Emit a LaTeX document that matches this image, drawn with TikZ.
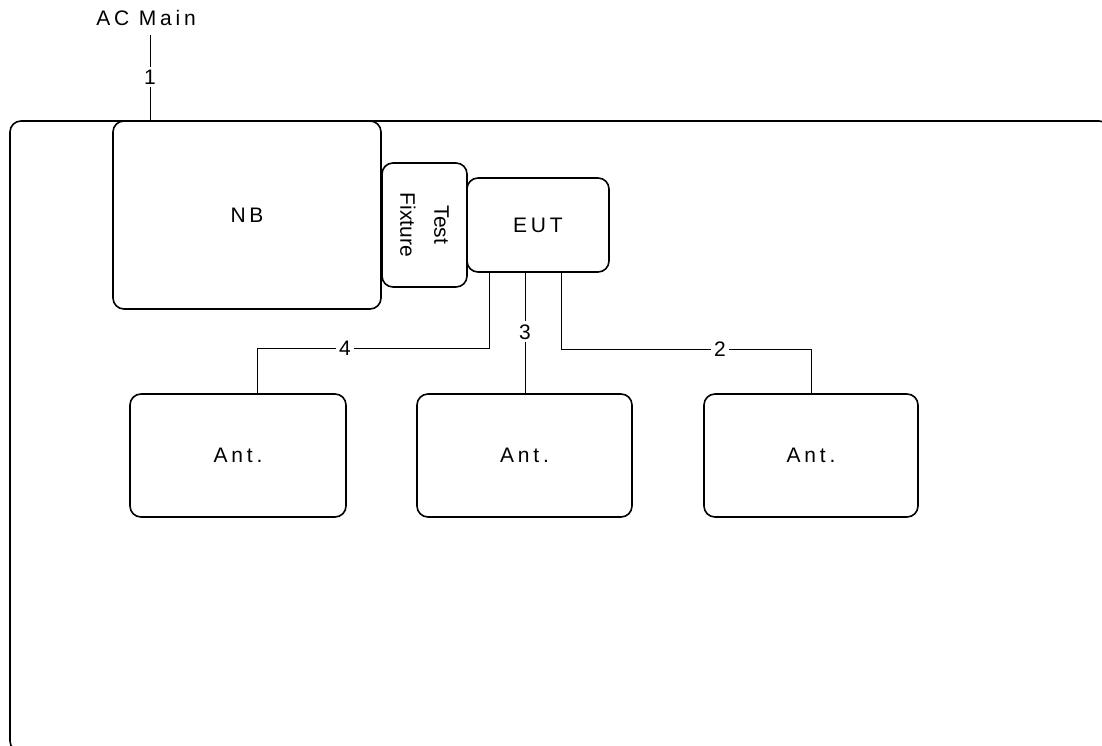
\documentclass[tikz,border=0pt]{standalone}
\usepackage{fontspec}
\setmainfont{Liberation Sans}
\newfontfamily\spaced[LetterSpace=18]{Liberation Sans}
\begin{document}
\begin{tikzpicture}[x=1pt,y=-1pt,
  box/.style={draw,line width=1.6pt,rounded corners=11pt,inner sep=0pt},
  wire/.style={draw,line width=0.8pt},
  lbl/.style={font=\fontsize{21}{24}\selectfont,inner sep=3pt,fill=white},
  txt/.style={font=\spaced\fontsize{21}{24}\selectfont}]
\useasboundingbox (0,0) rectangle (1102,745);
\clip (0,0) rectangle (1102,745);
\draw[line width=1.6pt,rounded corners=11pt] (10,121) rectangle (1110,752);
\node[box,minimum width=268pt,minimum height=188pt,txt] (nb) at (247,215) {NB};
\node[box,minimum width=85pt,minimum height=124pt] (tf) at (424.5,225) {};
\node[rotate=-90,align=center,font=\fontsize{21}{34}\selectfont] (tft) at (tf.center) {Test\\Fixture};
\node[box,minimum width=142pt,minimum height=94pt,txt] (eut) at (538,225) {EUT};
\node[box,minimum width=216pt,minimum height=123pt,txt] (a1) at (238,455.5) {Ant.};
\node[box,minimum width=215pt,minimum height=123pt,txt] (a2) at (524.5,455.5) {Ant.};
\node[box,minimum width=214pt,minimum height=123pt,txt] (a3) at (811,455.5) {Ant.};
\node[txt] (ac) at (146,18) {AC Main};
\coordinate (top1) at (150,121);
\draw[wire] (150,35) -- (top1) node[lbl,pos=0.49] {1};
\draw[wire] (489,272) |- (257,348) -- (257,394);
\node[lbl] at (345,348) {4};
\draw[wire] (525,272) -- (525,394) node[lbl,pos=0.49] {3};
\draw[wire] (561,272) |- (811,349) -- (811,394);
\node[lbl] at (720,349) {2};
\end{tikzpicture}
\end{document}
